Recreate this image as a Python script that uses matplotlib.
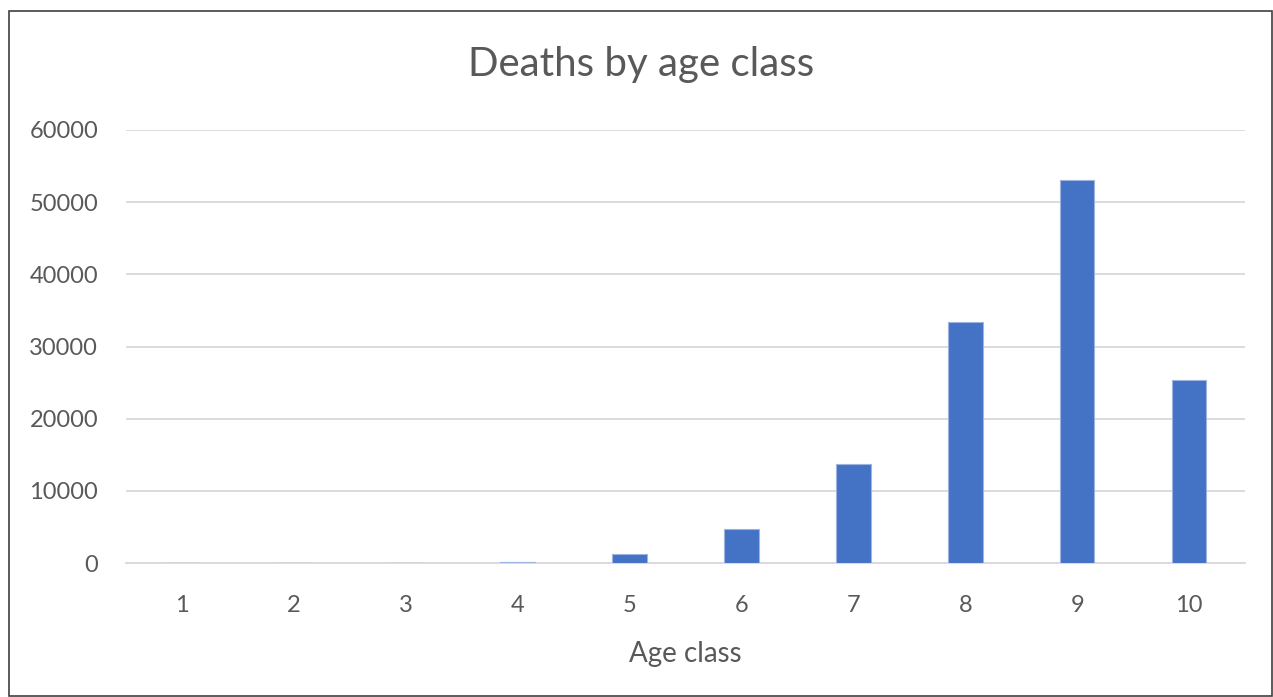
import matplotlib.pyplot as plt
from matplotlib.patches import Rectangle

# Data
age_classes = [1, 2, 3, 4, 5, 6, 7, 8, 9, 10]
deaths = [10, 5, 30, 150, 1250, 4700, 13700, 33400, 53050, 25350]
y_ticks = [0, 10000, 20000, 30000, 40000, 50000, 60000]

plt.rcParams['font.family'] = ['Lato', 'DejaVu Sans']
text_color = '#595959'
grid_color = '#d9d9d9'

fig = plt.figure(figsize=(12.73, 6.97), dpi=100)
ax = fig.add_axes([0.099, 0.192, 0.879, 0.6215])

ax.bar(age_classes, deaths, width=0.31, color='#4472c4',
       edgecolor='#9db4de', linewidth=0.8, zorder=3)

ax.set_xlim(0.5, 10.5)
ax.set_ylim(0, 60000)
ax.set_yticks(y_ticks)
ax.set_xticks(age_classes)
ax.set_xticklabels([str(a) for a in age_classes])
ax.yaxis.grid(True, color=grid_color, linewidth=1.3, zorder=0)
ax.set_axisbelow(True)
for s in ['top', 'right', 'left']:
    ax.spines[s].set_visible(False)
ax.spines['bottom'].set_color(grid_color)
ax.spines['bottom'].set_linewidth(1.3)
ax.spines['bottom'].set_zorder(1)
ax.tick_params(axis='both', length=0, labelsize=17, labelcolor=text_color)
ax.tick_params(axis='y', pad=20)
ax.tick_params(axis='x', pad=23)

ax.set_xlabel('Age class', fontsize=20, color=text_color, labelpad=18)
fig.text(0.504, 0.907, 'Deaths by age class', fontsize=29, color=text_color,
         ha='center', va='center')

# Outer chart border
fig.patches.append(Rectangle((9 / 1273, 0.001), 1263 / 1273, 1 - 11 / 697 - 0.001,
                             transform=fig.transFigure, fill=False,
                             edgecolor='#404040', linewidth=1.2))

plt.savefig('out.png', dpi=100)
